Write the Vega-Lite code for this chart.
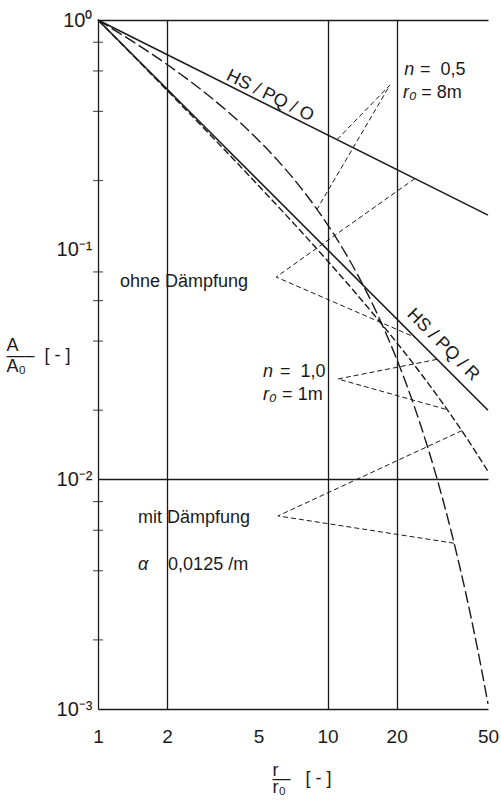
{
  "$schema": "https://vega.github.io/schema/vega-lite/v6.json",
  "width": 390,
  "height": 689,
  "autosize": {"type": "none"},
  "padding": {"left": 98, "top": 20, "right": 13, "bottom": 91},
  "background": "white",
  "config": {
    "view": {"stroke": null},
    "font": "Liberation Sans",
    "axis": {"labelFont": "Liberation Sans", "titleFont": "Liberation Sans"}
  },
  "datasets": {
    "curves": [
      {"s": "O", "x": 1, "y": 1}, {"s": "O", "x": 50, "y": 0.14142},
      {"s": "R", "x": 1, "y": 1}, {"s": "R", "x": 50, "y": 0.02},
      {"s": "D05", "x": 1, "y": 1}, {"s": "D05", "x": 1.5, "y": 0.7767},
      {"s": "D05", "x": 2, "y": 0.6398}, {"s": "D05", "x": 3, "y": 0.4727},
      {"s": "D05", "x": 4, "y": 0.3704}, {"s": "D05", "x": 5, "y": 0.2998},
      {"s": "D05", "x": 6, "y": 0.2476}, {"s": "D05", "x": 8, "y": 0.1756},
      {"s": "D05", "x": 10, "y": 0.1286}, {"s": "D05", "x": 12, "y": 0.0961},
      {"s": "D05", "x": 15, "y": 0.0637}, {"s": "D05", "x": 18, "y": 0.04306},
      {"s": "D05", "x": 20, "y": 0.03345}, {"s": "D05", "x": 25, "y": 0.01814},
      {"s": "D05", "x": 30, "y": 0.01005}, {"s": "D05", "x": 35, "y": 0.00564},
      {"s": "D05", "x": 40, "y": 0.0032}, {"s": "D05", "x": 45, "y": 0.00183},
      {"s": "D05", "x": 50, "y": 0.001053},
      {"s": "D10", "x": 1, "y": 1}, {"s": "D10", "x": 1.5, "y": 0.6625},
      {"s": "D10", "x": 2, "y": 0.4938}, {"s": "D10", "x": 3, "y": 0.3251},
      {"s": "D10", "x": 4, "y": 0.2408}, {"s": "D10", "x": 5, "y": 0.1902},
      {"s": "D10", "x": 7, "y": 0.13254}, {"s": "D10", "x": 10, "y": 0.08948},
      {"s": "D10", "x": 13, "y": 0.06621}, {"s": "D10", "x": 16, "y": 0.05181},
      {"s": "D10", "x": 20, "y": 0.03944}, {"s": "D10", "x": 25, "y": 0.02963},
      {"s": "D10", "x": 30, "y": 0.02319}, {"s": "D10", "x": 35, "y": 0.01867},
      {"s": "D10", "x": 40, "y": 0.01534}, {"s": "D10", "x": 45, "y": 0.0128},
      {"s": "D10", "x": 50, "y": 0.01082}
    ],
    "leaders": [
      {"id": "a", "o": 1, "x": 11, "y": 0.3015},
      {"id": "a", "o": 2, "x": 18.7, "y": 0.521},
      {"id": "a", "o": 3, "x": 9.0, "y": 0.15},
      {"id": "b", "o": 1, "x": 24, "y": 0.204},
      {"id": "b", "o": 2, "x": 5.97, "y": 0.076},
      {"id": "b", "o": 3, "x": 24.1, "y": 0.0415},
      {"id": "c", "o": 1, "x": 30.0, "y": 0.0333},
      {"id": "c", "o": 2, "x": 11.1, "y": 0.02735},
      {"id": "c", "o": 3, "x": 33.2, "y": 0.0201},
      {"id": "d", "o": 1, "x": 38.5, "y": 0.0163},
      {"id": "d", "o": 2, "x": 6.08, "y": 0.00693},
      {"id": "d", "o": 3, "x": 35.6, "y": 0.00527}
    ],
    "labels": [
      {"t": "=\u00a0\u00a00,5", "x": 25.3, "y": 0.606},
      {"t": "= 8m", "x": 25.6, "y": 0.481},
      {"t": "ohne Dämpfung", "x": 1.247, "y": 0.0723},
      {"t": "=\u00a0\u00a01,0", "x": 6.21, "y": 0.02935},
      {"t": "= 1m", "x": 6.34, "y": 0.0233},
      {"t": "mit Dämpfung", "x": 1.494, "y": 0.00679},
      {"t": "0,0125 /m", "x": 2.02, "y": 0.00424}
    ],
    "italic": [
      {"t": "n", "x": 21.6, "y": 0.606},
      {"t": "r₀", "x": 21.3, "y": 0.481},
      {"t": "n", "x": 5.236, "y": 0.02935},
      {"t": "r₀", "x": 5.236, "y": 0.0233},
      {"t": "α", "x": 1.494, "y": 0.00424}
    ],
    "yticks": [
      {"x": 1, "y": 0.8}, {"x": 1, "y": 0.6}, {"x": 1, "y": 0.4}, {"x": 1, "y": 0.2},
      {"x": 1, "y": 0.08}, {"x": 1, "y": 0.06}, {"x": 1, "y": 0.04}, {"x": 1, "y": 0.02},
      {"x": 1, "y": 0.008}, {"x": 1, "y": 0.006}, {"x": 1, "y": 0.004}, {"x": 1, "y": 0.002}
    ]
  },
  "encoding": {
    "x": {
      "field": "x",
      "type": "quantitative",
      "scale": {"type": "log", "domain": [1, 50]},
      "axis": {
        "values": [1, 2, 5, 10, 20, 50],
        "labelExpr": "datum.value",
        "ticks": false,
        "tickSize": 0,
        "labelPadding": 18,
        "labelFontSize": 19,
        "labelColor": "#1a1a1a",
        "labelFlush": false,
        "labelOverlap": false,
        "domainColor": "#1a1a1a",
        "domainWidth": 1.3,
        "grid": true,
        "gridColor": "#1a1a1a",
        "gridWidth": 1.3,
        "gridOpacity": {"condition": {"test": "datum.value == 2 || datum.value == 10 || datum.value == 20", "value": 1}, "value": 0},
        "title": ["\u00a0r", "—\u00a0\u00a0\u00a0[ - ]", "\u00a0r₀"],
        "titleFontSize": 18,
        "titleFontWeight": "normal",
        "titleColor": "#1a1a1a",
        "titleAlign": "left",
        "titleBaseline": "alphabetic",
        "titleLineHeight": 8.5,
        "titleX": 174,
        "titleY": 66
      }
    },
    "y": {
      "field": "y",
      "type": "quantitative",
      "scale": {"type": "log", "domain": [0.001, 1]},
      "axis": {
        "values": [1, 0.1, 0.01, 0.001],
        "labelExpr": "datum.value > 0.5 ? '10⁰' : datum.value > 0.05 ? '10⁻¹' : datum.value > 0.005 ? '10⁻²' : '10⁻³'",
        "ticks": false,
        "tickSize": 0,
        "labelPadding": 6,
        "labelFontSize": 20,
        "labelColor": "#1a1a1a",
        "labelFlush": false,
        "labelOverlap": false,
        "labelBound": false,
        "domainColor": "#1a1a1a",
        "domainWidth": 1.3,
        "grid": true,
        "gridColor": "#1a1a1a",
        "gridWidth": 1.3,
        "gridOpacity": {"condition": {"test": "datum.value > 0.5 || (datum.value > 0.005 && datum.value < 0.05)", "value": 1}, "value": 0},
        "title": ["\u00a0A", "—–\u00a0\u00a0[ - ]", "A₀"],
        "titleAngle": 0,
        "titleFontSize": 18,
        "titleFontWeight": "normal",
        "titleColor": "#1a1a1a",
        "titleAlign": "left",
        "titleBaseline": "alphabetic",
        "titleLineHeight": 10.5,
        "titleX": -92,
        "titleY": 330
      }
    }
  },
  "layer": [
    {
      "data": {"name": "yticks"},
      "mark": {"type": "tick", "orient": "horizontal", "size": 10, "thickness": 1.2, "color": "#1a1a1a"}
    },
    {
      "data": {"name": "curves"},
      "transform": [{"filter": "datum.s == 'O' || datum.s == 'R'"}],
      "mark": {"type": "line", "color": "#1a1a1a", "strokeWidth": 1.6},
      "encoding": {"detail": {"field": "s"}}
    },
    {
      "data": {"name": "curves"},
      "transform": [{"filter": "datum.s == 'D05'"}],
      "mark": {"type": "line", "color": "#1a1a1a", "strokeWidth": 1.4, "strokeDash": [12, 4], "interpolate": "monotone"},
      "encoding": {}
    },
    {
      "data": {"name": "curves"},
      "transform": [{"filter": "datum.s == 'D10'"}],
      "mark": {"type": "line", "color": "#1a1a1a", "strokeWidth": 1.4, "strokeDash": [7, 3], "interpolate": "monotone"},
      "encoding": {}
    },
    {
      "data": {"name": "leaders"},
      "mark": {"type": "line", "color": "#1a1a1a", "strokeWidth": 1, "strokeDash": [5, 3]},
      "encoding": {"detail": {"field": "id"}, "order": {"field": "o", "type": "quantitative"}}
    },
    {
      "data": {"name": "labels"},
      "mark": {"type": "text", "align": "left", "baseline": "middle", "fontSize": 18, "color": "#1a1a1a", "font": "Liberation Sans"},
      "encoding": {"text": {"field": "t"}}
    },
    {
      "data": {"name": "italic"},
      "mark": {"type": "text", "align": "left", "baseline": "middle", "fontSize": 18, "fontStyle": "italic", "color": "#1a1a1a", "font": "Liberation Sans"},
      "encoding": {"text": {"field": "t"}}
    },
    {
      "data": {"values": [{"t": "HS / PQ / O", "x": 5.617, "y": 0.4668}]},
      "mark": {"type": "text", "align": "center", "baseline": "middle", "angle": 26.57, "fontSize": 18, "color": "#1a1a1a", "font": "Liberation Sans"},
      "encoding": {"text": {"field": "t"}}
    },
    {
      "data": {"values": [{"t": "HS / PQ / R", "x": 31.87, "y": 0.03847}]},
      "mark": {"type": "text", "align": "center", "baseline": "middle", "angle": 45, "fontSize": 18, "color": "#1a1a1a", "font": "Liberation Sans"},
      "encoding": {"text": {"field": "t"}}
    }
  ]
}
